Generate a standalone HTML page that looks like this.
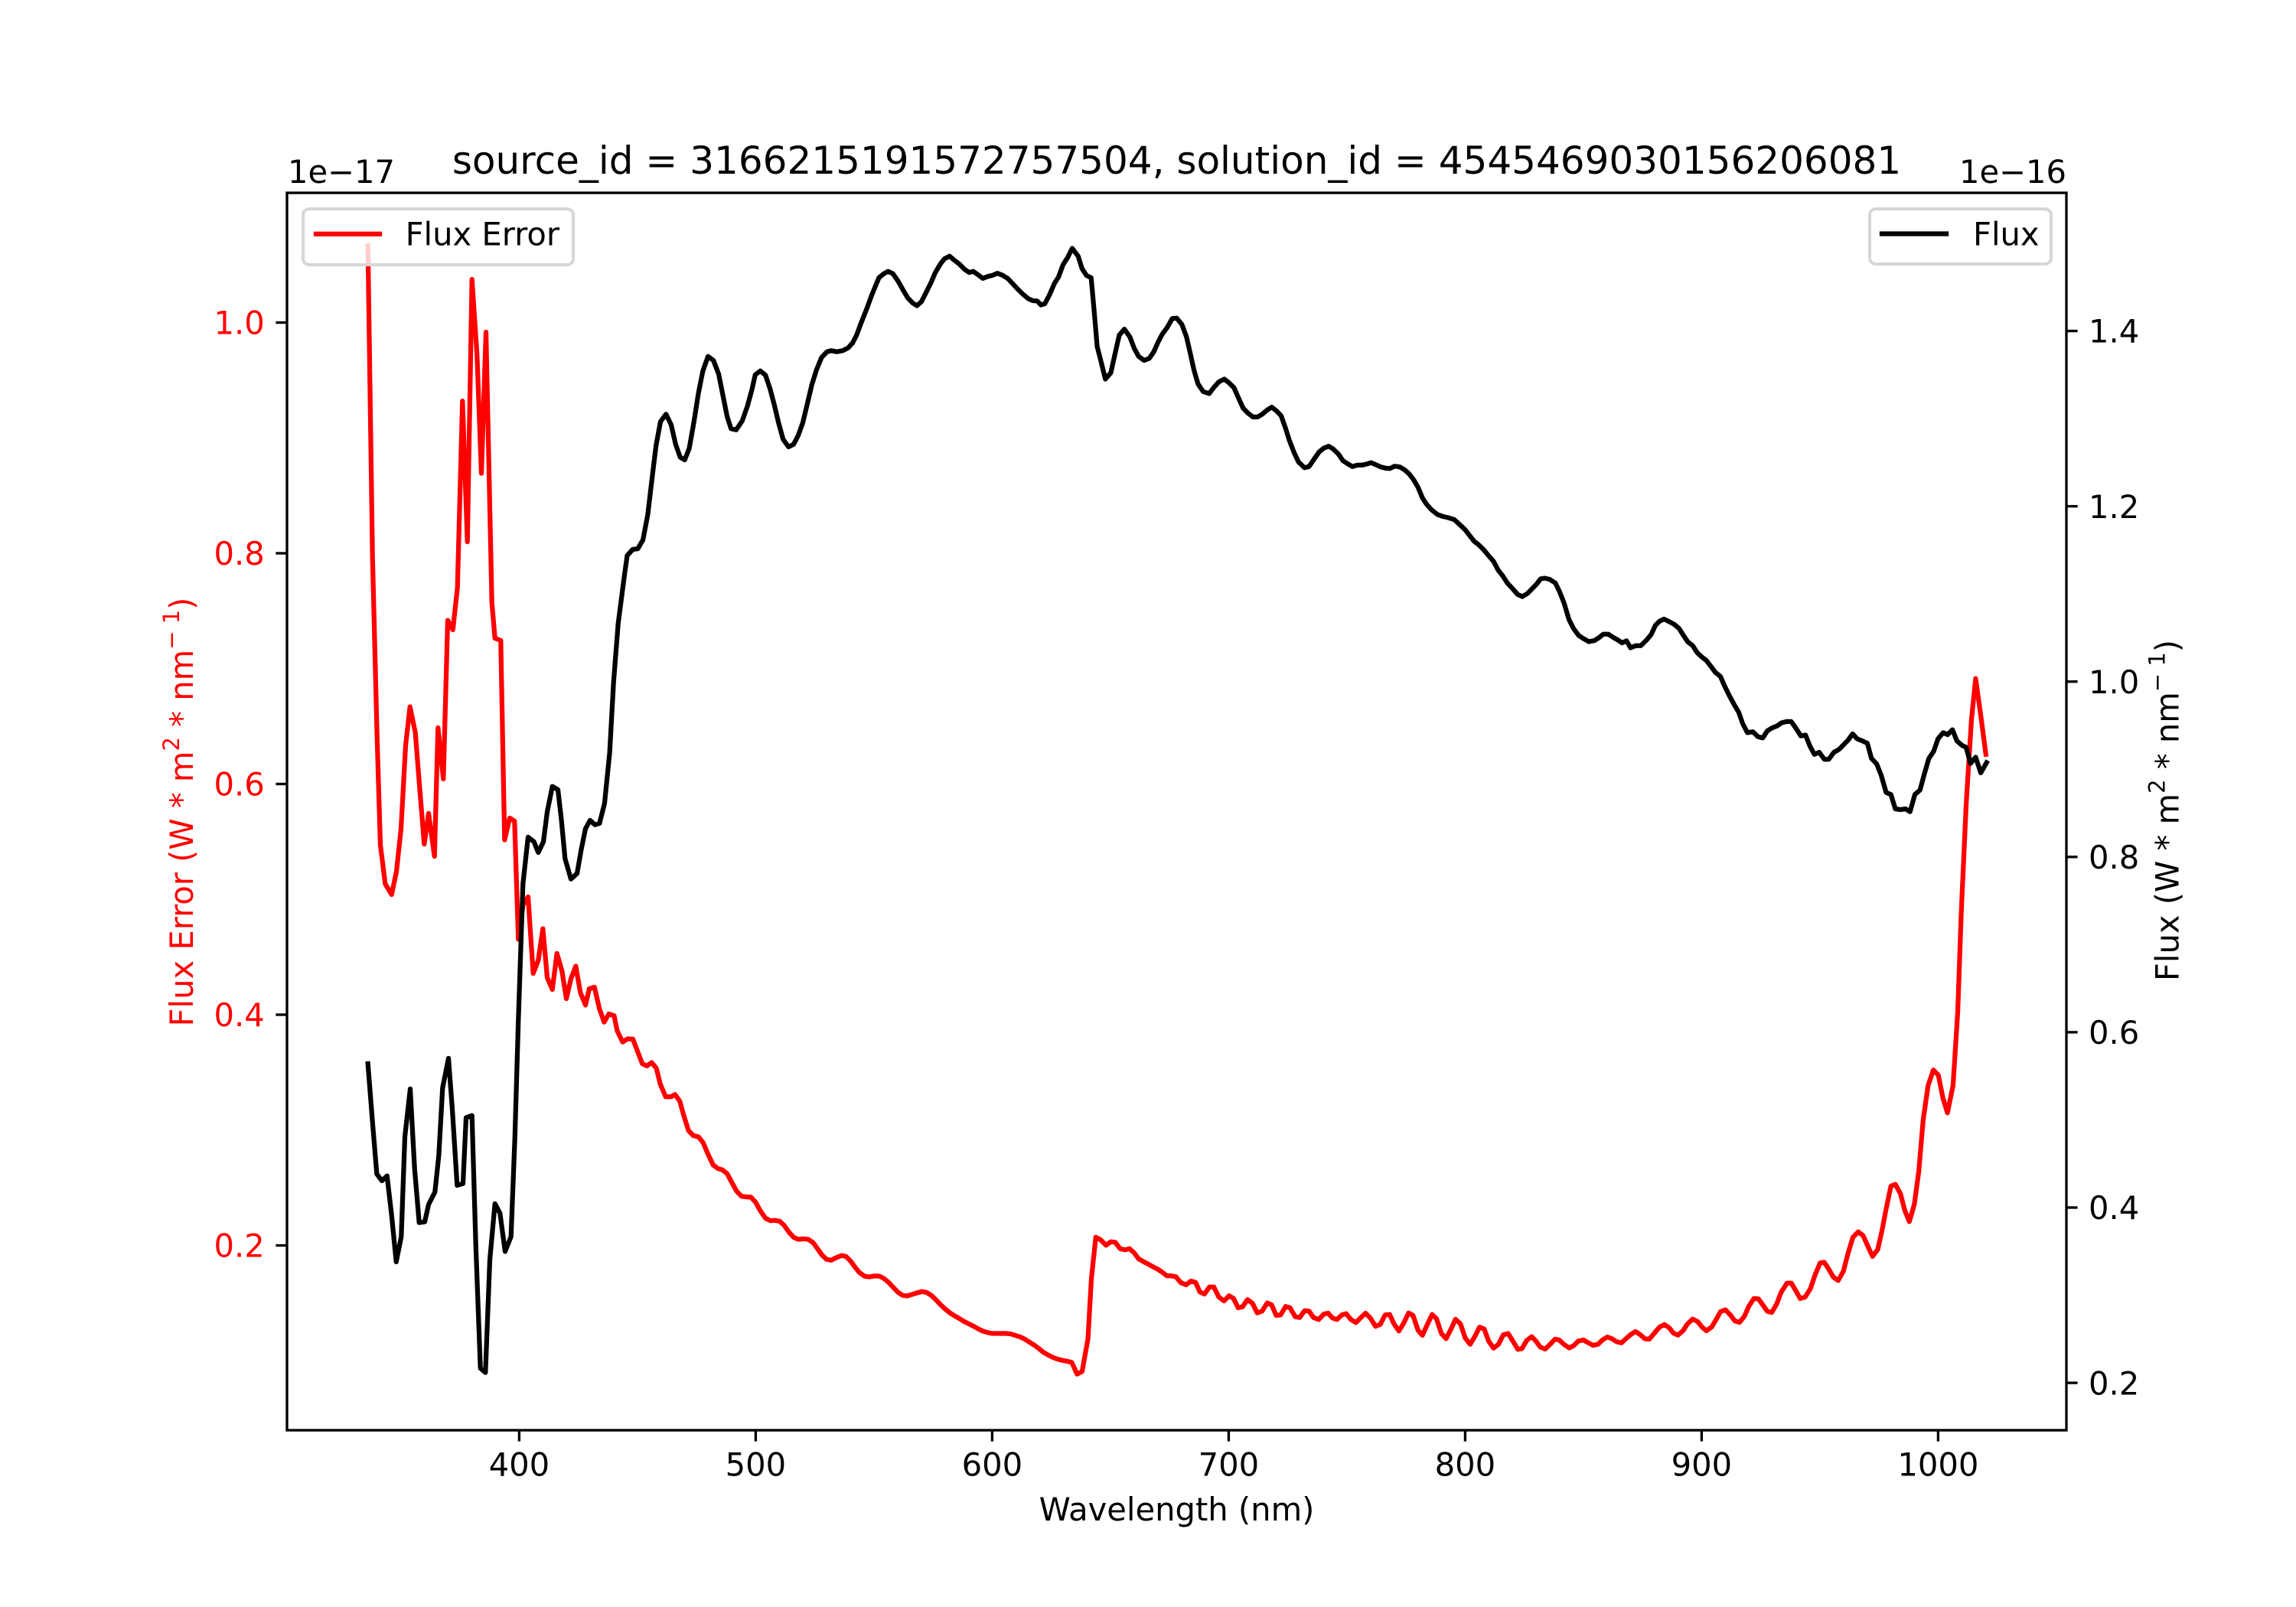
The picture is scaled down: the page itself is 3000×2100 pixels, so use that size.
<!DOCTYPE html>
<html>
<head>
<meta charset="utf-8">
<style>
html,body{margin:0;padding:0;background:#fff;}
svg{display:block;}
text{font-family:"DejaVu Sans","Liberation Sans",sans-serif;}
</style>
</head>
<body>
<svg width="3000" height="2100" viewBox="0 0 3000 2100" xmlns="http://www.w3.org/2000/svg">
<rect x="0" y="0" width="3000" height="2100" fill="#fff"/>

<!-- Red series: Flux Error -->
<polyline fill="none" stroke="#ff0000" stroke-width="6.25" stroke-linejoin="round" stroke-linecap="square" points="
480.7,321 486.7,727 492.7,963 497,1104 503.3,1155 511.7,1169 518,1139 524,1083 530,974 535.7,923.6 542.7,957.6 548.3,1029 554.3,1103 560,1063 567.7,1119 572.3,951 579.3,1018 585,810.6 591.7,823 597.7,768 604.3,524 610.7,708 616.7,365 623.3,464 629,618.6 635,434 642.7,787.6 646.7,834 654.3,837 659.3,1097.5 666,1069 672.3,1073 677.3,1227.5 683.3,1183 690,1172 696.7,1272 703.3,1255 709.3,1213.6 715,1277.5 721.7,1293 727.7,1246 734.3,1269 740,1305 746,1279 752.3,1262.5 758.3,1297 765,1313.5 770,1292 776.7,1290 783.3,1318.5 789.4,1335.7 795.5,1325 802.4,1327.3 806.5,1347.2 813.5,1361.7 820,1357.5 826.9,1357.9 833.1,1374 839.2,1390 845.3,1393 851.4,1388.5 857.6,1396 862.9,1417.2 869.8,1433.3 876.7,1433.3 882,1430.2 888.2,1439 893.5,1458.1 899.6,1477.3 905.7,1483.8 912.7,1485.7 918.8,1493.3 924.9,1507.9 931.8,1522.4 938,1527 944.1,1528.9 950.2,1533.9 956.3,1545.4 962.4,1556.5 969,1563.4 975.9,1564.1 981.2,1564.5 987.3,1571 993.1,1581.8 1000.4,1592.1 1006.5,1595.1 1012.7,1594.8 1018.8,1595.9 1024.9,1601.6 1031,1610.4 1037.1,1617 1043.3,1619.6 1049.4,1618.9 1056.3,1619.6 1062.4,1623.9 1068.6,1632.3 1073.9,1639.9 1080,1645.7 1086.1,1646.8 1092.2,1643.7 1099.2,1640.7 1105.3,1641.8 1111.4,1648 1116.7,1655.2 1122.9,1662.9 1129.8,1667.9 1135.9,1668.6 1142,1667.5 1148.6,1667.5 1154.7,1670.5 1160.8,1675.5 1166.9,1682 1173.1,1688.5 1179.2,1692.7 1185.3,1693.5 1191.4,1691.6 1197.6,1689.7 1204.5,1687.8 1210.6,1688.9 1216.7,1692.7 1222.9,1698.5 1229,1705 1235.1,1710.7 1241.2,1715.7 1247.3,1719.5 1253.5,1723 1259.6,1726.8 1265.7,1729.9 1271.8,1732.9 1278,1736.4 1284.1,1739.4 1290.2,1741.3 1296.3,1742.5 1302.4,1742.5 1308.6,1742.5 1314.7,1742.5 1320.8,1743.2 1326.9,1745.2 1333.1,1747.1 1339.2,1750.1 1345.3,1754 1351.4,1757.8 1357.6,1762.4 1363.7,1767.4 1369.8,1770.8 1375.9,1773.9 1382,1776.2 1388.2,1777.7 1394.3,1778.8 1400.4,1780.4 1407.3,1795.7 1413.9,1792.2 1421.5,1750 1426.1,1670 1431.8,1616.7
1437.9,1620 1445.2,1627.3 1451.3,1622.7 1457.1,1623.3 1463.6,1631.7 1470.1,1633.3 1475.8,1631.7 1482,1637.3 1487.7,1645 1493.4,1648.3 1499.9,1651.7 1505.7,1655 1512.2,1658.3 1518.3,1662.3 1524.8,1667.3 1530.6,1667.3 1536.3,1668.3 1542.8,1676 1549.7,1679 1556.2,1674 1562.3,1676 1567.7,1688.3 1573.8,1691 1580.3,1681.7 1586,1681.7 1592.5,1695 1599.4,1700 1605.9,1693.3 1611.7,1696.7 1617.8,1709 1623.5,1707.7 1630,1698.3 1636.6,1703.3 1642.7,1715.7 1649.2,1713.3 1655.7,1702.7 1661.4,1705 1667.6,1719 1673.3,1718.3 1679.8,1707.3 1685.5,1709 1692.4,1720.7 1698.2,1721.7 1704.7,1712.7 1710.4,1713.3 1716.2,1721.7 1723,1724.3 1729.6,1717.3 1735.3,1716 1741,1722.3 1746.8,1724.3 1753.3,1718.3 1759,1716.7 1765.1,1724.3 1771.7,1728.3 1778.2,1721.7 1784.3,1716 1790.8,1722.7 1797.3,1733.3 1803.4,1730.7 1809.9,1718.3 1815.7,1717.7 1821.4,1730 1827.9,1739.3 1834,1729.3 1840.5,1715.7 1846.3,1719 1852.8,1738.3 1858.5,1745 1864.6,1731.7 1871.2,1717.7 1876.9,1723.3 1883.4,1742.7 1889.5,1749.3 1896,1736.7 1901.8,1724 1908.3,1730 1914.4,1748.3 1920.9,1756.7 1926.6,1747.3 1933.2,1734.3 1939.3,1736.7 1945,1752.3 1951.5,1761.7 1958,1756.7 1964.2,1744.3 1970.6,1742.7 1977.2,1753.3 1983.3,1763.3 1988.6,1762.3 1994.8,1751.7 2001.3,1746.7
2006.9,1752.4 2012.6,1760.5 2019.1,1762.9 2024.9,1757.2 2031.8,1750 2037.1,1751 2044,1757.2 2050.5,1761.5 2056.6,1758.1 2062.4,1752.4 2068.9,1751 2075.4,1754.8 2081.5,1758.1 2088,1756.7 2093.8,1751 2100.3,1747.1 2106.4,1749.5 2112.1,1753.3 2118.6,1754.8 2124.4,1749.5 2130.9,1743.8 2137,1740 2142.7,1743.8 2149.3,1749.5 2155,1750 2161.5,1742.3 2168.4,1734.2 2174.9,1730.9 2181,1735.2 2186.8,1742.3 2192.5,1744.7 2199,1739 2204.7,1730.4 2211.6,1723.7 2218.1,1727 2223.9,1734.2 2229.6,1739 2236.5,1734.2 2242.2,1724.6 2248,1714.1 2254.5,1711.7 2261,1718.4 2266.7,1726.1 2272.9,1728 2279.4,1719.9 2285.1,1706.9 2291.6,1696.9 2297.7,1697.4 2303.5,1705.5 2309.2,1713.6 2315,1715.1 2321.5,1704 2327.2,1688.8 2334.9,1676.8 2340.6,1676.8 2346.3,1686.4 2352.1,1696.9 2358.6,1695 2365.5,1684 2371.2,1667.2 2378.1,1650.5 2383.5,1649.5 2389.6,1658.6 2395.3,1668.7 2401.8,1673.4 2408.7,1661 2414.5,1638.5 2421,1617 2427.9,1609.8 2434.4,1614.6 2440.1,1627.5 2446.6,1641.9 2453.5,1632.8 2459.2,1607.4 2464.2,1581.1 2470.7,1550 2476.5,1547.6 2483,1559.6 2489.1,1582.5 2494.8,1596.4 2501.3,1573.9 2507.1,1530.9 2512.8,1463.9 2519.3,1418.4 2526.2,1398.3 2532.7,1405 2538.5,1434.2 2544.6,1454.3 2551.9,1418.4 2558,1322.7 2562.6,1193.5 2569.1,1050 2576,940 2581.4,886.7 2588.1,934.9 2594.8,985.8"/>

<!-- Flux Error legend (ax1) -->
<rect x="396" y="273" width="353" height="73" rx="8" ry="8" fill="#ffffff" fill-opacity="0.8" stroke="#d6d6d6" stroke-width="4"/>
<line x1="413" y1="305.7" x2="496" y2="305.7" stroke="#ff0000" stroke-width="6.25" stroke-linecap="square"/>
<text x="529.6" y="320.7" font-size="41.67" fill="#000">Flux Error</text>

<!-- Black series: Flux -->
<polyline fill="none" stroke="#000000" stroke-width="6.25" stroke-linejoin="round" stroke-linecap="square" points="
480.7,1390 486.7,1466 492.3,1534 499,1543 505.7,1536.6 511.7,1588 517.7,1649 524.3,1616 529,1485.6 536,1423 541.7,1527 547.7,1597.7 555,1596.6 560,1574 568.3,1557.7 573.3,1510.5 578.3,1421.7 586,1383 591,1449.5 597.3,1549 605,1546.6 609,1460.6 616.7,1457.8 621.7,1627 627.7,1788 634.3,1793.6 640,1646.5 646.7,1573 653.3,1585.5 660,1635.4 667.7,1616 672.7,1488 677.3,1333 683.3,1155 690,1094 697.7,1100 703.3,1114 710,1100 715,1061 721.7,1027.7 729,1032 733.3,1069 738.3,1122 746,1148.7 754,1141.5 759.3,1111 765,1083 771,1072 777.3,1077.7 783.3,1076 789.9,1050
796.6,983.7 801.7,891.8 807.7,815 815.6,754 819.5,726 826.7,718 833.4,717 840.1,705.6 846.4,672.4 851.2,631.6 857.1,583 863,551 870.2,541.3 876.9,555 882.8,580.6 888.7,597.4 894.7,601 900.6,585.7 906.5,552.6 912.5,514.3 918.4,484.7 925.1,465.8 932.2,471 939,488.8 944.1,514.3 950,543.9 955.2,560.2 961.9,561.7 969.8,550 976.5,531 982.5,509 986.8,489.8 993.5,484.7 1000.2,490.3 1006.2,508.2 1012.1,530.6 1017.3,552.6 1023.2,574 1030.3,584 1037,580.6 1043,568.9 1048.9,552.6 1054.8,528 1060.7,503 1066.7,483.7 1073.4,467.3 1080.5,459.7 1086.4,458.2 1093.2,459.7 1101.1,458.2 1108.2,454.6 1114.1,448 1119.3,437.8 1124,425 1128,414.8 1133.1,402 1138.6,386.7 1143.8,374 1148.5,362.8 1154.8,357.7 1160.4,354.6 1166.7,357.7 1173.4,367.3 1179.4,378 1186.1,389.3 1192.4,395.9 1198,399.5 1203.9,394.4 1209.8,382.7 1216.2,369.9 1222.1,356.1 1228.8,344.9 1233.9,338.3 1240.7,334.7 1246.6,339.8 1253.3,344.9 1260.4,352 1266.4,356.1 1271.5,354.6 1277.4,358.7 1284.2,363.8 1290.9,361.2 1297.2,359.7 1303.1,357.1 1309.9,359.7 1316.6,363.8 1322.9,370.4 1329.6,377.6 1336.3,384.2 1343.5,390.3 1349.4,392.9 1355.3,393.4 1360.1,398.5 1365.2,396.9 1371.1,385.7 1377.9,370 1383,362.2 1389,345.9 1394.9,336.7 1401,324.5
1408.7,334.7 1413.8,351 1419.8,360.2 1425.7,362.8 1429.7,407 1433.6,453 1437.6,468.4 1444.3,495.4 1451.4,487.2 1457.3,460.7 1462.5,437.8 1469.2,430.1 1476.3,440.3 1482.2,455.6 1487.8,465.8 1494.9,470.9 1501.6,468.4 1507.6,459.7 1513.5,446.4 1518.6,436.7 1525.3,427.6 1531.7,416.3 1537.6,415.8 1544.3,424 1550.3,440.3 1555,460.7 1560.1,483.7 1565.3,501.5 1572,511.7 1579.9,514.3 1585.8,506.6 1592.6,499 1599.7,495.4 1605.6,500 1612.3,506.6 1617.5,518.4 1624.2,533.2 1630.5,539.8 1637.2,544.9 1643.2,544.9 1649.9,540.8 1655.8,535.7 1661.8,532.1 1668.1,537.2 1674,543.4 1679.6,559.2 1684.7,575.5 1690.6,590.8 1696.6,603.6 1704.5,611.2 1710.4,609.7 1716.3,601 1723.4,590.8 1729.4,585.7 1736.1,583.2 1742,586.7 1748.8,593.4 1754.7,602 1761,606.1 1766.9,609.7 1773.7,607.7 1780.4,607.7 1786.7,606.1 1791.5,604.6 1797.4,607.1 1804.1,610.2 1810,611.7 1816,612.2 1822.3,609.2 1829,610.2 1835,613.8 1840.9,618.9 1846.8,626.5 1852.8,636.7 1858.7,651 1864.6,659.7 1870.6,666.3 1878.4,672.4 1885.6,675 1892.3,676.5 1900.2,679 1906.9,685.2 1914,691.8 1920,699.5 1925.9,707.1 1931.8,711.7 1938.6,718.4 1944.9,726 1951.6,733.7 1957.5,744.9 1963.5,752.6 1969.4,761.7 1976.5,769.4 1983.2,777 1989.2,779.6 1995.9,775.5 2001.8,769.4 2007.7,763.3 2012.9,756.6
2018,755.5 2024.7,757 2032.3,761.9 2037.7,773.1 2043.5,787.6 2050.2,810 2056,821.3 2062.7,830.4 2069.4,834.7 2076,838.5 2083.7,836.9 2089.5,833.1 2094.8,828.8 2101.5,828.8 2108.2,833.1 2114.9,836.9 2119.4,840.1 2125.2,837.4 2130.5,846.5 2137.2,843.8 2143.9,843.8 2152,835.8 2157.3,829.4 2163.1,817 2168.5,811.7 2174.3,809 2181.9,812.8 2187.7,816 2193.9,821.3 2199.7,830.4 2205.1,838.5 2211.8,843.8 2217.6,852.9 2223.4,858.3 2229.6,863.1 2235.4,870.6 2241.3,878.6 2247.9,884 2253.3,896.3 2259.1,908.1 2265.4,919.9 2272,931.1 2277,945.6 2283.2,957.4 2290.4,956.3 2297,962.7 2303.3,964.3 2309.1,955.2 2315.8,951 2321.6,948.8 2327.9,944.5 2334.6,942.9 2340.4,942.9 2346.2,951 2353,961.7 2359.1,960.6 2364.9,975 2370.7,985.8 2377,983.1 2383.7,992.2 2389.5,992.2 2396.2,983.1 2402.9,979.3 2408.7,973.4 2414.9,967 2420.7,959 2426.5,965.4 2433.2,968.1 2439.9,971.3 2445.3,991.1 2452,998.1 2457.8,1012.5 2464.5,1035.6 2470.7,1038.3 2476.5,1057 2483.2,1058 2489.9,1057 2495.7,1060.7 2502,1038.3 2508.7,1032.4 2514.5,1011 2520.3,991.1 2526.5,982 2532.3,965.4 2539,957.4 2544.8,960 2551.1,953.6 2556.9,968.1 2563.6,974 2569,976.7 2574.7,997.6 2581.4,989.5 2588.1,1009.9 2595.7,996.5"/>

<!-- Flux legend (ax2) -->
<rect x="2443" y="273" width="237" height="72" rx="8" ry="8" fill="#ffffff" fill-opacity="0.8" stroke="#d6d6d6" stroke-width="4"/>
<line x1="2459" y1="305.5" x2="2543" y2="305.5" stroke="#000000" stroke-width="6.25" stroke-linecap="square"/>
<text x="2578" y="320.7" font-size="41.67" fill="#000">Flux</text>

<!-- Axes frame -->
<rect x="375" y="252" width="2325" height="1617" fill="none" stroke="#000" stroke-width="3.33"/>

<!-- Bottom ticks -->
<g stroke="#000" stroke-width="3.33">
<line x1="678.4" y1="1869" x2="678.4" y2="1883.6"/>
<line x1="987.4" y1="1869" x2="987.4" y2="1883.6"/>
<line x1="1296.4" y1="1869" x2="1296.4" y2="1883.6"/>
<line x1="1605.4" y1="1869" x2="1605.4" y2="1883.6"/>
<line x1="1914.4" y1="1869" x2="1914.4" y2="1883.6"/>
<line x1="2223.4" y1="1869" x2="2223.4" y2="1883.6"/>
<line x1="2532.4" y1="1869" x2="2532.4" y2="1883.6"/>
<!-- left ticks -->
<line x1="375" y1="1627.5" x2="360.4" y2="1627.5"/>
<line x1="375" y1="1326" x2="360.4" y2="1326"/>
<line x1="375" y1="1024.5" x2="360.4" y2="1024.5"/>
<line x1="375" y1="723" x2="360.4" y2="723"/>
<line x1="375" y1="421.5" x2="360.4" y2="421.5"/>
<!-- right ticks -->
<line x1="2700" y1="432.5" x2="2714.6" y2="432.5"/>
<line x1="2700" y1="661.6" x2="2714.6" y2="661.6"/>
<line x1="2700" y1="890.7" x2="2714.6" y2="890.7"/>
<line x1="2700" y1="1119.8" x2="2714.6" y2="1119.8"/>
<line x1="2700" y1="1348.9" x2="2714.6" y2="1348.9"/>
<line x1="2700" y1="1578" x2="2714.6" y2="1578"/>
<line x1="2700" y1="1807.1" x2="2714.6" y2="1807.1"/>
</g>

<!-- X tick labels -->
<g font-size="41.67" fill="#000" text-anchor="middle">
<text x="678.4" y="1928.5">400</text>
<text x="987.4" y="1928.5">500</text>
<text x="1296.4" y="1928.5">600</text>
<text x="1605.4" y="1928.5">700</text>
<text x="1914.4" y="1928.5">800</text>
<text x="2223.4" y="1928.5">900</text>
<text x="2532.4" y="1928.5">1000</text>
</g>

<!-- Left tick labels (red) -->
<g font-size="41.67" fill="#ff0000" text-anchor="end">
<text x="345.8" y="1642.7">0.2</text>
<text x="345.8" y="1341.2">0.4</text>
<text x="345.8" y="1039.7">0.6</text>
<text x="345.8" y="738.2">0.8</text>
<text x="345.8" y="436.7">1.0</text>
</g>

<!-- Right tick labels -->
<g font-size="41.67" fill="#000" text-anchor="start">
<text x="2729" y="447.7">1.4</text>
<text x="2729" y="676.8">1.2</text>
<text x="2729" y="905.9">1.0</text>
<text x="2729" y="1135">0.8</text>
<text x="2729" y="1364.1">0.6</text>
<text x="2729" y="1593.2">0.4</text>
<text x="2729" y="1822.3">0.2</text>
</g>

<!-- Offset texts -->
<text x="376" y="239" font-size="41.67" fill="#000">1e−17</text>
<text x="2700" y="239" font-size="41.67" fill="#000" text-anchor="end">1e−16</text>

<!-- Title -->
<text x="1537.5" y="227" font-size="50" fill="#000" text-anchor="middle">source_id = 3166215191572757504, solution_id = 4545469030156206081</text>

<!-- X label -->
<text x="1537.5" y="1987" font-size="41.67" fill="#000" text-anchor="middle">Wavelength (nm)</text>

<!-- Left Y label -->
<text transform="translate(252,1061) rotate(-90)" font-size="41.67" fill="#ff0000" text-anchor="middle">Flux Error (W * m<tspan font-size="29" dy="-18">2</tspan><tspan dy="18"> * nm</tspan><tspan font-size="29" dy="-18">− 1</tspan><tspan dy="18">)</tspan></text>

<!-- Right Y label -->
<text transform="translate(2846.5,1059) rotate(-90)" font-size="41.67" fill="#000" text-anchor="middle">Flux (W * m<tspan font-size="29" dy="-18">2</tspan><tspan dy="18"> * nm</tspan><tspan font-size="29" dy="-18">− 1</tspan><tspan dy="18">)</tspan></text>
</svg>
</body>
</html>
